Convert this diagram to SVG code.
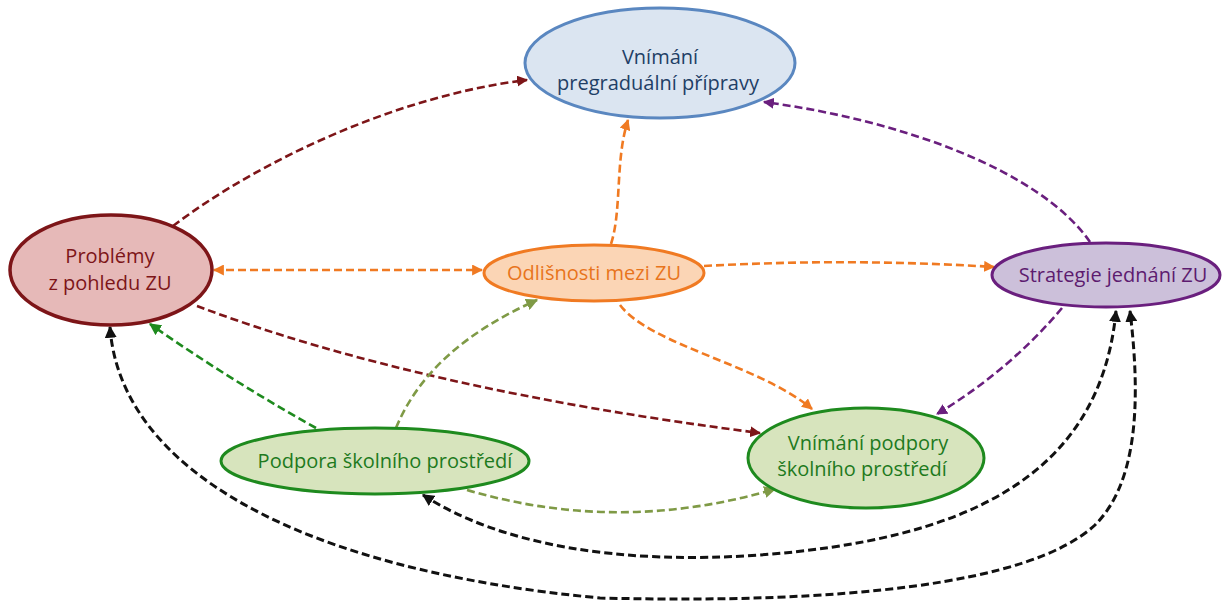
<svg xmlns="http://www.w3.org/2000/svg" width="1222" height="601" viewBox="0 0 1222 601">
  <style>
    .lbl { font-family: "Open Sans", "Noto Sans", "DejaVu Sans", sans-serif; font-size: 20px; text-anchor: middle; }
    .edge { fill: none; stroke-width: 2.6; stroke-dasharray: 8 4; }
    .red { stroke: #7d1518; }
    .orange { stroke: #f07a22; }
    .purple { stroke: #6a1f7e; }
    .green { stroke: #1e8a1e; }
    .olive { stroke: #7f9a46; }
    .black { stroke: #111111; stroke-width: 3; }
  </style>
  <defs>
    <marker id="m-red" viewBox="0 0 10 10" refX="9" refY="5" markerWidth="11" markerHeight="11" markerUnits="userSpaceOnUse" orient="auto-start-reverse"><path d="M0,0 L10,5 L0,10 Z" fill="#7d1518"/></marker>
    <marker id="m-orange" viewBox="0 0 10 10" refX="9" refY="5" markerWidth="11" markerHeight="11" markerUnits="userSpaceOnUse" orient="auto-start-reverse"><path d="M0,0 L10,5 L0,10 Z" fill="#f07a22"/></marker>
    <marker id="m-purple" viewBox="0 0 10 10" refX="9" refY="5" markerWidth="11" markerHeight="11" markerUnits="userSpaceOnUse" orient="auto-start-reverse"><path d="M0,0 L10,5 L0,10 Z" fill="#6a1f7e"/></marker>
    <marker id="m-green" viewBox="0 0 10 10" refX="9" refY="5" markerWidth="12" markerHeight="12" markerUnits="userSpaceOnUse" orient="auto-start-reverse"><path d="M0,0 L10,5 L0,10 Z" fill="#1e8a1e"/></marker>
    <marker id="m-olive" viewBox="0 0 10 10" refX="9" refY="5" markerWidth="12" markerHeight="12" markerUnits="userSpaceOnUse" orient="auto-start-reverse"><path d="M0,0 L10,5 L0,10 Z" fill="#7f9a46"/></marker>
    <marker id="m-black" viewBox="0 0 10 10" refX="9" refY="5" markerWidth="12" markerHeight="12" markerUnits="userSpaceOnUse" orient="auto-start-reverse"><path d="M0,0 L10,5 L0,10 Z" fill="#111111"/></marker>
  </defs>

  <rect width="1222" height="601" fill="#ffffff"/>

  <!-- connectors -->
  <g id="connectors">
    <path class="edge red" d="M173,226 C260,160 400,95 527,80" marker-end="url(#m-red)"/>
    <path class="edge red" d="M197,306 Q420,390 760,433" marker-end="url(#m-red)"/>
    <path class="edge orange" d="M611,244 C622,210 615,160 628,120" marker-end="url(#m-orange)"/>
    <path class="edge orange" d="M214,270 L482,270" marker-start="url(#m-orange)" marker-end="url(#m-orange)"/>
    <path class="edge orange" d="M704,266 Q850,258 994,267" marker-end="url(#m-orange)"/>
    <path class="edge orange" d="M620,305 C650,345 760,365 812,409" marker-end="url(#m-orange)"/>
    <path class="edge purple" d="M1090,242 C1040,170 900,120 764,102" marker-end="url(#m-purple)"/>
    <path class="edge purple" d="M1062,308 Q1010,370 937,414" marker-end="url(#m-purple)"/>
    <path class="edge green" d="M316,428 Q230,380 150,324" marker-end="url(#m-green)"/>
    <path class="edge olive" d="M396,428 C420,370 470,330 537,300" marker-end="url(#m-olive)"/>
    <path class="edge olive" d="M467,490 Q620,535 775,489" marker-end="url(#m-olive)"/>
    <path class="edge black" d="M423,495 C500,545 620,565 760,555 C960,540 1100,480 1116,311" marker-start="url(#m-black)" marker-end="url(#m-black)"/>
    <path class="edge black" d="M110,327 C120,470 300,570 600,598 C840,604 1030,585 1095,525 C1135,485 1142,410 1130,311" marker-start="url(#m-black)" marker-end="url(#m-black)"/>
  </g>

  <!-- nodes -->
  <g id="node-pregradualni">
    <ellipse cx="660" cy="63" rx="135" ry="55" fill="#dbe5f1" stroke="#5a87c0" stroke-width="3"/>
    <text class="lbl" x="660" y="64" fill="#1f3f66">Vnímání</text>
    <text class="lbl" x="658" y="90" fill="#1f3f66">pregraduální přípravy</text>
  </g>

  <g id="node-problemy">
    <ellipse cx="111" cy="270" rx="101" ry="55" fill="#e6b9b8" stroke="#7d1518" stroke-width="3.5"/>
    <text class="lbl" x="110" y="263" fill="#7d1518">Problémy</text>
    <text class="lbl" x="110" y="290" fill="#7d1518">z pohledu ZU</text>
  </g>

  <g id="node-odlisnosti">
    <ellipse cx="594" cy="273" rx="110" ry="28" fill="#fbd5b5" stroke="#f07a22" stroke-width="3"/>
    <text class="lbl" x="594" y="280" fill="#e8741c">Odlišnosti mezi ZU</text>
  </g>

  <g id="node-strategie">
    <ellipse cx="1106" cy="275" rx="114" ry="32" fill="#ccc0da" stroke="#6a1f7e" stroke-width="3"/>
    <text class="lbl" x="1113" y="282" fill="#5d1b6f">Strategie jednání ZU</text>
  </g>

  <g id="node-podpora">
    <ellipse cx="375" cy="461" rx="154" ry="33" fill="#d7e4bd" stroke="#1e8a1e" stroke-width="3"/>
    <text class="lbl" x="385" y="468" fill="#1e7a1e">Podpora školního prostředí</text>
  </g>

  <g id="node-vnimani-podpory">
    <ellipse cx="866" cy="458" rx="118" ry="50" fill="#d7e4bd" stroke="#1e8a1e" stroke-width="3"/>
    <text class="lbl" x="868" y="450" fill="#1e7a1e">Vnímání podpory</text>
    <text class="lbl" x="862" y="476" fill="#1e7a1e">školního prostředí</text>
  </g>
</svg>
